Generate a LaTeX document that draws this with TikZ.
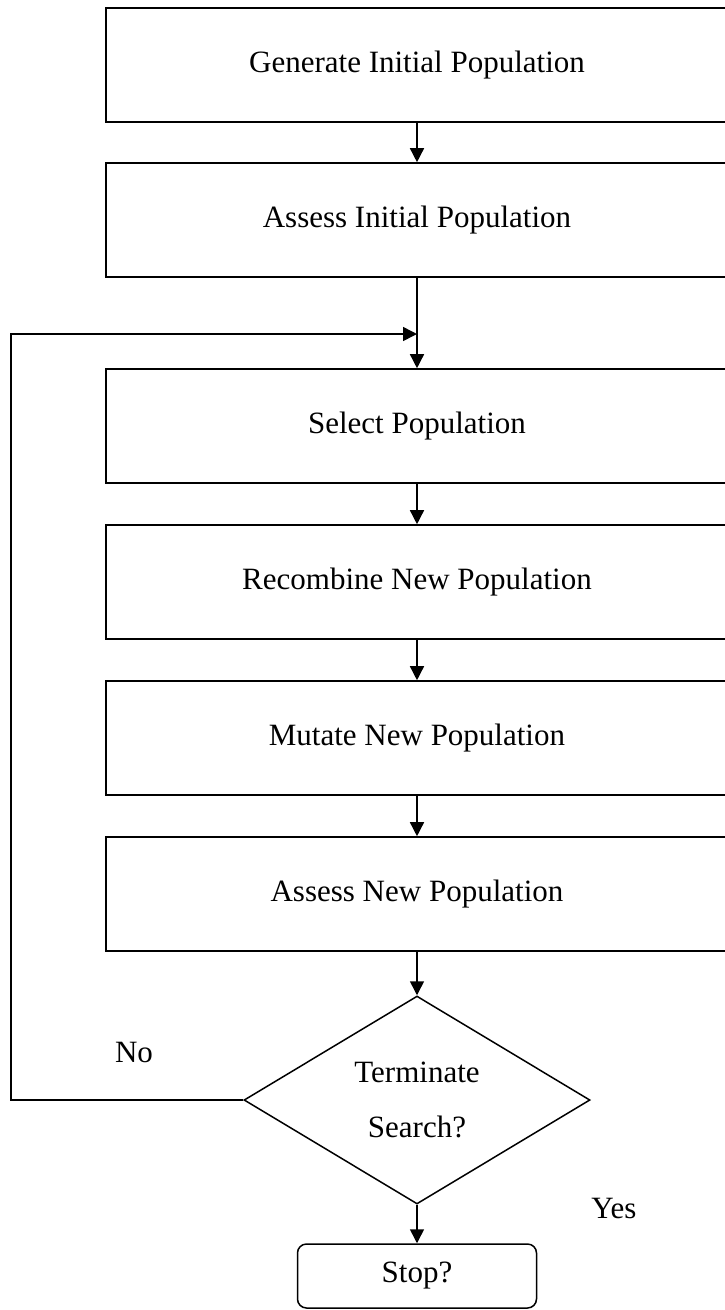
\documentclass[tikz,border=0pt]{standalone}
\usepackage{fontspec}
\setmainfont{Liberation Serif}
\usetikzlibrary{shapes.geometric,arrows.meta}
\begin{document}
\begin{tikzpicture}[x=1pt,y=-1pt,
  every node/.style={font=\fontsize{31}{37}\selectfont},
  procbox/.style={draw,line width=1.6pt,minimum width=622pt,minimum height=114pt,inner sep=0pt},
  decision/.style={draw,diamond,line width=1.5pt,minimum width=346pt,minimum height=208pt,inner sep=0pt,align=center,font=\fontsize{31}{55}\selectfont},
  endbox/.style={draw,rounded corners=9pt,line width=1.5pt,minimum width=239pt,minimum height=64pt,inner sep=0pt},
  conn/.style={line width=1.5pt},
  arr/.style={conn,-{Triangle[length=14pt,width=14pt]}}]
\useasboundingbox (0,0) rectangle (725,1310);
\clip (0,0) rectangle (725,1310);
\node[procbox] (gen) at (417,65) {Generate Initial Population};
\node[procbox] (ass) at (417,220) {Assess Initial Population};
\node[procbox] (sel) at (417,426) {Select Population};
\node[procbox] (rec) at (417,582) {Recombine New Population};
\node[procbox] (mut) at (417,738) {Mutate New Population};
\node[procbox] (asn) at (417,894) {Assess New Population};
\node[decision] (term) at (417,1100) {Terminate\\Search?};
\node[endbox] (stop) at (417,1276) {Stop?};
\coordinate (join) at (417,334);
\coordinate (lb) at (11,1100);
\coordinate (lt) at (11,334);
\draw[arr] (gen.south) -- (ass.north);
\draw[arr] (ass.south) -- (sel.north);
\draw[arr] (term.west) -- (lb) -- (lt) -- (join);
\draw[arr] (sel.south) -- (rec.north);
\draw[arr] (rec.south) -- (mut.north);
\draw[arr] (mut.south) -- (asn.north);
\draw[arr] (asn.south) -- (term.north);
\draw[arr] (term.south) -- (stop.north);
\node (no) at (134,1052) {No};
\node (yes) at (614,1208) {Yes};
\end{tikzpicture}
\end{document}
